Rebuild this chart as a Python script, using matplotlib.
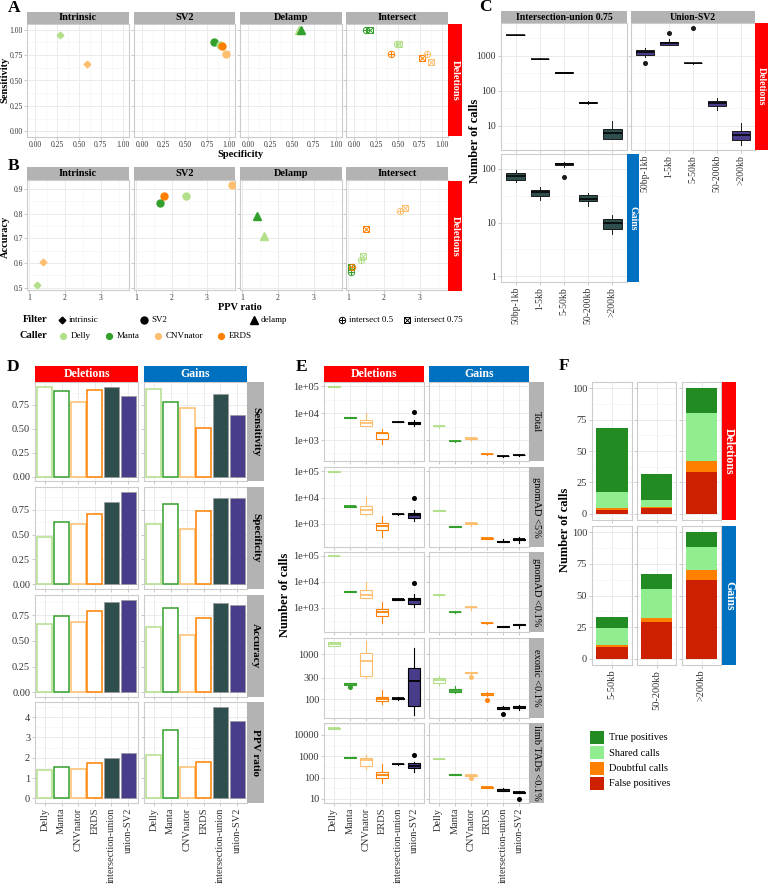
import numpy as np
import matplotlib
matplotlib.use("Agg")
import matplotlib.pyplot as plt
from matplotlib.ticker import FixedLocator
from matplotlib.patches import Rectangle

plt.rcParams['font.family'] = ['Liberation Serif', 'DejaVu Serif']

W, H = 768, 886

# colours
caller_colors = {'Delly': '#B2DF8A', 'Manta': '#33A02C', 'CNVnator': '#FDBF6F', 'ERDS': '#FF7F00'}
combo_colors = {'intersection-union': '#2F4F4F', 'union-SV2': '#483D8B'}
GREY = '#B3B3B3'
RED = '#FF0000'
BLUE = '#0070C0'

# ---------------- A / B data ----------------
ab_panels = ['Intrinsic', 'SV2', 'Delamp', 'Intersect']
a_panel = ['Intrinsic', 'Intrinsic', 'SV2', 'SV2', 'SV2', 'SV2', 'Delamp', 'Delamp',
           'Intersect', 'Intersect', 'Intersect', 'Intersect', 'Intersect', 'Intersect', 'Intersect', 'Intersect']
a_caller = ['Delly', 'CNVnator', 'Manta', 'Delly', 'ERDS', 'CNVnator', 'Delly', 'Manta',
            'Manta', 'Manta', 'Delly', 'Delly', 'ERDS', 'ERDS', 'CNVnator', 'CNVnator']
a_filter = ['intrinsic', 'intrinsic', 'SV2', 'SV2', 'SV2', 'SV2', 'delamp', 'delamp',
            'intersect 0.5', 'intersect 0.75', 'intersect 0.5', 'intersect 0.75',
            'intersect 0.5', 'intersect 0.75', 'intersect 0.5', 'intersect 0.75']
a_spec = [0.29, 0.59, 0.83, 0.90, 0.92, 0.97, 0.58, 0.60, 0.14, 0.18, 0.49, 0.51, 0.42, 0.77, 0.83, 0.88]
a_sens = [0.95, 0.66, 0.875, 0.85, 0.835, 0.765, 1.0, 1.0, 1.0, 1.0, 0.86, 0.86, 0.76, 0.72, 0.76, 0.685]

b_panel = a_panel
b_caller = ['Delly', 'CNVnator', 'Manta', 'ERDS', 'Delly', 'CNVnator', 'Manta', 'Delly',
            'Manta', 'Manta', 'ERDS', 'ERDS', 'Delly', 'Delly', 'CNVnator', 'CNVnator']
b_filter = a_filter
b_ppv = [1.22, 1.38, 1.67, 1.80, 2.40, 3.70, 1.42, 1.62, 1.07, 1.09, 1.12, 1.50, 1.37, 1.42, 2.45, 2.60]
b_acc = [0.51, 0.605, 0.845, 0.87, 0.872, 0.917, 0.79, 0.71, 0.563, 0.585, 0.583, 0.738, 0.61, 0.627, 0.81, 0.822]

# ---------------- C data: [whislo, q1, median, q3, whishi] ----------------
c_bins = ['50bp-1kb', '1-5kb', '5-50kb', '50-200kb', '>200kb']
c_del_iu = [[3850, 3880, 3950, 4020, 4050], [790, 800, 820, 840, 850], [322, 328, 333, 340, 345],
            [43, 44, 46, 49, 51], [4.3, 4.3, 6.4, 8.2, 13.9]]
c_del_iu_out = [[], [], [], [], []]
c_del_us = [[950, 1070, 1275, 1480, 1660], [2060, 2060, 2300, 2560, 3000], [600, 610, 620, 630, 640],
            [29, 38, 45, 52, 64], [2.9, 4.0, 5.4, 6.9, 12]]
c_del_us_out = [[644], [4450], [6200], [], []]
c_gain_iu = [[56, 62.6, 74, 83, 96], [26, 31.6, 37, 41, 46], [110, 118, 125, 130, 136],
             [20, 25.6, 28, 32.6, 35], [6, 7.6, 9.9, 11.8, 14]]
c_gain_iu_out = [[], [], [71], [], []]

# ---------------- D data ----------------
methods = ['Delly', 'Manta', 'CNVnator', 'ERDS', 'intersection-union', 'union-SV2']
d_metrics = ['Sensitivity', 'Specificity', 'Accuracy', 'PPV ratio']
d_sens_del = [0.935, 0.89, 0.78, 0.90, 0.94, 0.84]
d_sens_gain = [0.91, 0.78, 0.72, 0.51, 0.86, 0.64]
d_spec_del = [0.48, 0.63, 0.61, 0.71, 0.83, 0.93]
d_spec_gain = [0.61, 0.81, 0.56, 0.74, 0.87, 0.87]
d_acc_del = [0.66, 0.74, 0.68, 0.79, 0.88, 0.90]
d_acc_gain = [0.63, 0.82, 0.56, 0.72, 0.87, 0.85]
d_ppv_del = [1.38, 1.56, 1.46, 1.72, 2.00, 2.24]
d_ppv_gain = [2.13, 3.37, 1.56, 1.80, 4.52, 3.80]

# ---------------- E data: [whislo, q1, median, q3, whishi] ----------------
e_filters = ['Total', 'gnomAD <5%', 'gnomAD <0.1%', 'exonic <0.1%', 'limb TADs <0.1%']
e_del_total = [[95000, 96000, 98000, 100000, 101000], [6600, 6700, 6850, 7000, 7100],
               [3200, 3300, 4200, 5600, 10500], [710, 1060, 1800, 1860, 2500],
               [4600, 4700, 4750, 4800, 4900], [3200, 3800, 4400, 4750, 5500]]
e_del_total_out = [[], [], [], [], [], [10700]]
e_gain_total = [[2700, 3250, 3350, 3400, 3450], [880, 890, 918, 940, 950], [900, 1120, 1150, 1180, 1200],
                [285, 290, 295, 300, 305], [235, 248, 255, 260, 265], [260, 268, 275, 282, 290]]
e_gain_total_out = [[], [], [], [], [], []]
e_del_g5 = [[95000, 96000, 98000, 100000, 101000], [4400, 4500, 4630, 4750, 4850],
            [2220, 2390, 3450, 4960, 10600], [325, 590, 860, 1060, 1970],
            [2250, 2300, 2360, 2420, 2480], [1340, 1740, 2220, 2720, 3450]]
e_del_g5_out = [[], [], [], [], [], [9750]]
e_gain_g5 = [[3150, 3200, 3240, 3280, 3330], [760, 775, 790, 805, 820], [860, 1020, 1060, 1100, 1120],
             [270, 275, 280, 285, 290], [200, 205, 210, 215, 265], [195, 245, 255, 265, 330]]
e_gain_g5_out = [[], [], [], [], [], []]
e_del_g01 = [[95000, 96000, 98000, 100000, 101000], [4050, 4100, 4170, 4250, 4300],
             [2300, 2420, 3100, 4850, 10000], [250, 480, 680, 910, 1680],
             [2000, 2030, 2070, 2110, 2150], [1060, 1400, 1950, 2420, 3260]]
e_del_g01_out = [[], [], [], [], [], [8900]]
e_gain_g01 = [[2900, 2950, 2980, 3010, 3050], [650, 665, 680, 695, 710], [830, 1020, 1060, 1100, 1120],
              [240, 245, 250, 255, 260], [178, 181, 185, 189, 192], [170, 205, 215, 225, 236]]
e_gain_g01_out = [[], [], [], [], [], []]
e_del_ex = [[1550, 1560, 1700, 1830, 1840], [200, 203, 214, 229, 232], [288, 330, 705, 1050, 1920],
            [79, 89, 100, 113, 157], [98, 100, 104, 107, 110], [45, 72, 254, 500, 1370]]
e_del_ex_out = [[], [186], [], [], [], []]
e_gain_ex = [[203, 234, 260, 288, 324], [139, 142, 152, 165, 193], [370, 378, 385, 392, 400],
             [120, 125, 130, 136, 142], [60, 60, 63, 66, 72], [58, 63, 67, 70, 75]]
e_gain_ex_out = [[], [], [303], [98], [47], []]
e_del_tad = [[19500, 20000, 20500, 21000, 21500], [840, 855, 870, 885, 900], [255, 350, 670, 810, 1200],
             [55, 94, 134, 180, 420], [405, 412, 420, 428, 435], [190, 290, 365, 470, 560]]
e_del_tad_out = [[], [], [], [], [], [1100]]
e_gain_tad = [[730, 740, 750, 760, 770], [128, 131, 135, 140, 143], [112, 117, 130, 133, 135],
              [33, 34, 35, 36, 37], [23, 24, 26, 28, 31], [19, 20, 21, 22, 23]]
e_gain_tad_out = [[], [], [94], [], [], [9.6]]

# ---------------- F data ----------------
f_bins = ['5-50kb', '50-200kb', '>200kb']
f_classes = ['False positives', 'Doubtful calls', 'Shared calls', 'True positives']
f_class_colors = ['#CD2000', '#FF8000', '#90EE90', '#228B22']
f_del_fp = [3.1, 4.5, 33]
f_del_doubt = [1.3, 0.5, 9]
f_del_shared = [12.8, 6.0, 38]
f_del_tp = [50.8, 20.8, 20]
f_gain_fp = [9.2, 29.3, 62]
f_gain_doubt = [1.8, 3.2, 8]
f_gain_shared = [13, 22.5, 18]
f_gain_tp = [9, 12, 12]

fig = plt.figure(figsize=(W / 100, H / 100), dpi=100)


def add_ax(x0, y0, x1, y1):
    return fig.add_axes([x0 / W, 1 - y1 / H, (x1 - x0) / W, (y1 - y0) / H])


def strip(x0, y0, x1, y1, label, bg=GREY, fg='black', rot=0, size=7.5, weight='bold'):
    s = add_ax(x0, y0, x1, y1)
    s.set_facecolor(bg)
    s.set_xticks([])
    s.set_yticks([])
    for sp in s.spines.values():
        sp.set_visible(False)
    s.text(0.5, 0.5, label, transform=s.transAxes, ha='center', va='center',
           rotation=rot, color=fg, fontsize=size, fontweight=weight)
    return s


def panel(x0, y0, x1, y1, labelsize=7.5, pad=1.5):
    ax = add_ax(x0, y0, x1, y1)
    for sp in ax.spines.values():
        sp.set_color('#CCCCCC')
        sp.set_linewidth(0.8)
    ax.tick_params(which='major', length=2, width=0.5, color='#B3B3B3',
                   labelsize=labelsize, labelcolor='#333333', pad=pad)
    ax.tick_params(which='minor', length=0)
    ax.grid(True, which='major', color='#EBEBEB', lw=0.7)
    ax.grid(True, which='minor', color='#F3F3F3', lw=0.4)
    ax.set_axisbelow(True)
    return ax


def draw_point(ax, x, y, filt, col):
    if filt == 'intrinsic':
        ax.plot(x, y, marker='D', ms=3.4, color=col, ls='none', zorder=3)
    elif filt == 'SV2':
        ax.plot(x, y, marker='o', ms=5.0, color=col, ls='none', zorder=3)
    elif filt == 'delamp':
        ax.plot(x, y, marker='^', ms=5.7, color=col, ls='none', zorder=3)
    elif filt == 'intersect 0.5':
        ax.plot(x, y, marker='o', ms=4.6, mfc='none', mec=col, mew=0.7, ls='none', zorder=3)
        ax.plot(x, y, marker='+', ms=4.6, mec=col, mew=0.7, ls='none', zorder=3)
    else:
        ax.plot(x, y, marker='s', ms=4.3, mfc='none', mec=col, mew=0.7, ls='none', zorder=3)
        ax.plot(x, y, marker='x', ms=3.7, mec=col, mew=0.7, ls='none', zorder=3)


def draw_boxes(ax, stats, outs, fills, edges, medcols, width=0.75, lw=0.7):
    items = []
    for s, o in zip(stats, outs):
        items.append({'whislo': s[0], 'q1': s[1], 'med': s[2], 'q3': s[3], 'whishi': s[4], 'fliers': o})
    bp = ax.bxp(items, positions=np.arange(len(items)), widths=width, patch_artist=True,
                showcaps=False, manage_ticks=False)
    for i in range(len(items)):
        bp['boxes'][i].set(facecolor=fills[i], edgecolor=edges[i], linewidth=lw)
        bp['medians'][i].set(color=medcols[i], linewidth=lw * 1.6)
        for w in bp['whiskers'][2 * i:2 * i + 2]:
            w.set(color=edges[i], linewidth=lw)
        bp['fliers'][i].set(marker='o', markerfacecolor=edges[i], markeredgecolor=edges[i], markersize=2.6)


def log_ticks(ax, lo, hi, ticks, labels):
    ax.set_yscale('log')
    ax.set_ylim(10 ** lo, 10 ** hi)
    ax.yaxis.set_major_locator(FixedLocator(ticks))
    lt = np.log10(ticks)
    mids = list((lt[:-1] + lt[1:]) / 2)
    mids = [lt[0] - (lt[1] - lt[0]) / 2] + mids + [lt[-1] + (lt[-1] - lt[-2]) / 2]
    ax.yaxis.set_minor_locator(FixedLocator([10 ** m for m in mids]))
    ax.yaxis.set_minor_formatter(plt.NullFormatter())
    ax.set_yticklabels(labels)


# ================= A =================
fac_cols = [(27, 129), (134, 235), (240, 342), (346, 448)]
q = [0, 0.25, 0.5, 0.75, 1.0]
for k, name in enumerate(ab_panels):
    x0, x1 = fac_cols[k]
    strip(x0, 12, x1, 24, name)
    ax = panel(x0, 24, x1, 137, labelsize=5.5, pad=1)
    ax.set_xlim(-0.09, 1.07)
    ax.set_ylim(-0.055, 1.055)
    ax.xaxis.set_major_locator(FixedLocator(q))
    ax.xaxis.set_minor_locator(FixedLocator([0.125, 0.375, 0.625, 0.875]))
    ax.yaxis.set_major_locator(FixedLocator(q))
    ax.yaxis.set_minor_locator(FixedLocator([0.125, 0.375, 0.625, 0.875]))
    ax.set_xticklabels(['0.00', '0.25', '0.50', '0.75', '1.00'])
    ax.set_yticklabels(['0.00', '0.25', '0.50', '0.75', '1.00'])
    if k > 0:
        ax.tick_params(labelleft=False)
    for i in range(len(a_panel)):
        if a_panel[i] == name:
            draw_point(ax, a_spec[i], a_sens[i], a_filter[i], caller_colors[a_caller[i]])
strip(448, 24, 462, 136, 'Deletions', bg=RED, fg='white', rot=-90, size=7.5)

# ================= B =================
for k, name in enumerate(ab_panels):
    x0, x1 = fac_cols[k]
    strip(x0, 167, x1, 180, name)
    ax = panel(x0, 180, x1, 290, labelsize=5.5, pad=1)
    ax.set_xlim(0.94, 3.79)
    ax.set_ylim(0.49, 0.937)
    ax.xaxis.set_major_locator(FixedLocator([1, 2, 3]))
    ax.xaxis.set_minor_locator(FixedLocator([1.5, 2.5, 3.5]))
    ax.yaxis.set_major_locator(FixedLocator([0.5, 0.6, 0.7, 0.8, 0.9]))
    ax.yaxis.set_minor_locator(FixedLocator([0.55, 0.65, 0.75, 0.85]))
    ax.set_xticklabels(['1', '2', '3'])
    ax.set_yticklabels(['0.5', '0.6', '0.7', '0.8', '0.9'])
    if k > 0:
        ax.tick_params(labelleft=False)
    for i in range(len(b_panel)):
        if b_panel[i] == name:
            draw_point(ax, b_ppv[i], b_acc[i], b_filter[i], caller_colors[b_caller[i]])
strip(448, 181, 462, 291, 'Deletions', bg=RED, fg='white', rot=-90, size=7.5)

# ================= C =================
cx = np.arange(len(c_bins))
c_iu = combo_colors['intersection-union']
c_us = combo_colors['union-SV2']
axc1 = panel(501, 23, 627, 150, labelsize=7)
draw_boxes(axc1, c_del_iu, c_del_iu_out, [c_iu] * 5, ['#1A1A1A'] * 5, ['black'] * 5)
log_ticks(axc1, 0.31, 3.94, [10, 100, 1000], ['10', '100', '1000'])
axc1.set_xlim(-0.6, 4.6)
axc1.set_xticks(cx)
axc1.tick_params(labelbottom=False)

axc2 = panel(631, 23, 755, 150, labelsize=7)
draw_boxes(axc2, c_del_us, c_del_us_out, [c_us] * 5, ['#1A1A1A'] * 5, ['black'] * 5)
log_ticks(axc2, 0.31, 3.94, [10, 100, 1000], ['10', '100', '1000'])
axc2.set_xlim(-0.6, 4.6)
axc2.set_xticks(cx)
axc2.set_xticklabels(c_bins, rotation=90)
axc2.tick_params(labelleft=False)

axc3 = panel(501, 154, 627, 282, labelsize=7)
draw_boxes(axc3, c_gain_iu, c_gain_iu_out, [c_iu] * 5, ['#1A1A1A'] * 5, ['black'] * 5)
log_ticks(axc3, -0.11, 2.28, [1, 10, 100], ['1', '10', '100'])
axc3.set_xlim(-0.6, 4.6)
axc3.set_xticks(cx)
axc3.set_xticklabels(c_bins, rotation=90)

strip(501, 11, 627, 23, 'Intersection-union 0.75', size=7)
strip(631, 11, 755, 23, 'Union-SV2', size=7)
strip(755, 23, 768, 150, 'Deletions', bg=RED, fg='white', rot=-90, size=7)
strip(627, 154, 639, 282, 'Gains', bg=BLUE, fg='white', rot=-90, size=7)

# ================= D =================
d_cols = [(35, 138), (144, 247)]
d_rows = [(382, 481), (487, 589), (595, 697), (702, 803)]
d_vals = [[d_sens_del, d_sens_gain], [d_spec_del, d_spec_gain],
          [d_acc_del, d_acc_gain], [d_ppv_del, d_ppv_gain]]
mx = np.arange(len(methods))
for r, (y0, y1) in enumerate(d_rows):
    ymax = max(max(d_vals[r][0]), max(d_vals[r][1]))
    for c, (x0, x1) in enumerate(d_cols):
        ax = panel(x0, y0, x1, y1, labelsize=7.5)
        vals = d_vals[r][c]
        for i, m in enumerate(methods):
            if m in caller_colors:
                ax.bar(i, vals[i], 0.9, facecolor='white', edgecolor=caller_colors[m], linewidth=1.1, zorder=2)
            else:
                ax.bar(i, vals[i], 0.9, facecolor=combo_colors[m], edgecolor='#9A9A9A', linewidth=0.5, zorder=2)
        ax.set_xlim(-0.6, 5.6)
        ax.set_ylim(-0.05 * ymax, 1.05 * ymax)
        ax.set_xticks(mx)
        if r < 3:
            ax.yaxis.set_major_locator(FixedLocator([0, 0.25, 0.5, 0.75]))
            ax.yaxis.set_minor_locator(FixedLocator([0.125, 0.375, 0.625, 0.875]))
            ax.set_yticklabels(['0.00', '0.25', '0.50', '0.75'])
        else:
            ax.yaxis.set_major_locator(FixedLocator([0, 1, 2, 3, 4]))
            ax.yaxis.set_minor_locator(FixedLocator([0.5, 1.5, 2.5, 3.5, 4.5]))
            ax.set_yticklabels(['0', '1', '2', '3', '4'])
        if c > 0:
            ax.tick_params(labelleft=False)
        if r < 3:
            ax.tick_params(labelbottom=False)
        else:
            ax.set_xticklabels(methods, rotation=90)
    strip(247, y0, 264, y1, d_metrics[r], rot=-90, size=8)
strip(35, 366, 138, 382, 'Deletions', bg=RED, fg='white', size=8.5)
strip(144, 366, 247, 382, 'Gains', bg=BLUE, fg='white', size=8.5)

# ================= E =================
e_cols = [(324, 424), (429, 529)]
e_rows = [(382, 461), (467, 547), (552, 632), (638, 718), (723, 803)]
e_data = [[(e_del_total, e_del_total_out), (e_gain_total, e_gain_total_out)],
          [(e_del_g5, e_del_g5_out), (e_gain_g5, e_gain_g5_out)],
          [(e_del_g01, e_del_g01_out), (e_gain_g01, e_gain_g01_out)],
          [(e_del_ex, e_del_ex_out), (e_gain_ex, e_gain_ex_out)],
          [(e_del_tad, e_del_tad_out), (e_gain_tad, e_gain_tad_out)]]
e_lims = [(2.22, 5.16), (2.12, 5.17), (2.06, 5.15), (1.58, 3.36), (0.81, 4.56)]
e_ticks = [[1e3, 1e4, 1e5]] * 3 + [[100, 300, 1000], [10, 100, 1000, 10000]]
e_labels = [['1e+03', '1e+04', '1e+05']] * 3 + [['100', '300', '1000'], ['10', '100', '1000', '10000']]
e_edges = [caller_colors['Delly'], caller_colors['Manta'], caller_colors['CNVnator'], caller_colors['ERDS'],
           'black', 'black']
e_fills = ['white', 'white', 'white', 'white', 'white', combo_colors['union-SV2']]
for r, (y0, y1) in enumerate(e_rows):
    for c, (x0, x1) in enumerate(e_cols):
        ax = panel(x0, y0, x1, y1, labelsize=7.5)
        st, outs = e_data[r][c]
        draw_boxes(ax, st, outs, e_fills, e_edges, e_edges, width=0.75, lw=0.8)
        log_ticks(ax, e_lims[r][0], e_lims[r][1], e_ticks[r], e_labels[r])
        ax.set_xlim(-0.6, 5.6)
        ax.set_xticks(mx)
        if c > 0:
            ax.tick_params(labelleft=False)
        if r < 4:
            ax.tick_params(labelbottom=False)
        else:
            ax.set_xticklabels(methods, rotation=90)
    strip(529, y0, 544, y1, e_filters[r], rot=-90, size=7.5, weight='normal')
strip(324, 366, 424, 382, 'Deletions', bg=RED, fg='white', size=8.5)
strip(429, 366, 529, 382, 'Gains', bg=BLUE, fg='white', size=8.5)

# ================= F =================
f_cols = [(592, 632), (637, 676), (682, 721)]
f_rows = [(382, 520), (526, 665)]
f_stack = [[f_del_fp, f_del_doubt, f_del_shared, f_del_tp],
           [f_gain_fp, f_gain_doubt, f_gain_shared, f_gain_tp]]
for r, (y0, y1) in enumerate(f_rows):
    for c, (x0, x1) in enumerate(f_cols):
        ax = panel(x0, y0, x1, y1, labelsize=7.5)
        bottom = 0
        for k in range(len(f_classes)):
            v = f_stack[r][k][c]
            ax.bar(0, v, 0.9, bottom=bottom, color=f_class_colors[k], linewidth=0, zorder=2)
            bottom += v
        ax.set_xlim(-0.58, 0.58)
        ax.set_ylim(-5, 105)
        ax.set_xticks([0])
        ax.yaxis.set_major_locator(FixedLocator([0, 25, 50, 75, 100]))
        ax.yaxis.set_minor_locator(FixedLocator([12.5, 37.5, 62.5, 87.5]))
        ax.set_yticklabels(['0', '25', '50', '75', '100'])
        if c > 0:
            ax.tick_params(labelleft=False)
        if r == 0:
            ax.tick_params(labelbottom=False)
        else:
            ax.set_xticklabels([f_bins[c]], rotation=90)
strip(722, 382, 736, 520, 'Deletions', bg=RED, fg='white', rot=-90, size=8.5)
strip(722, 526, 736, 665, 'Gains', bg=BLUE, fg='white', rot=-90, size=8.5)

# ================= overlay: titles, letters, legends =================
ov = fig.add_axes([0, 0, 1, 1], zorder=10)
ov.set_xlim(0, W)
ov.set_ylim(H, 0)
ov.axis('off')

for lab, (lx, ly) in {'A': (14, 8), 'B': (14, 166), 'C': (485, 7), 'D': (13, 367),
                      'E': (302, 367), 'F': (564, 366)}.items():
    ov.text(lx, ly, lab, fontsize=12.5, fontweight='bold', ha='center', va='center')

ov.text(240, 154, 'Specificity', fontsize=7.5, fontweight='bold', ha='center', va='center')
ov.text(5, 80, 'Sensitivity', fontsize=7.5, fontweight='bold', ha='center', va='center', rotation=90)
ov.text(240, 307, 'PPV ratio', fontsize=7.5, fontweight='bold', ha='center', va='center')
ov.text(5, 237, 'Accuracy', fontsize=7.5, fontweight='bold', ha='center', va='center', rotation=90)
ov.text(475, 141, 'Number of calls', fontsize=9, fontweight='bold', ha='center', va='center', rotation=90)
ov.text(285, 595, 'Number of calls', fontsize=9, fontweight='bold', ha='center', va='center', rotation=90)
ov.text(565, 530, 'Number of calls', fontsize=9, fontweight='bold', ha='center', va='center', rotation=90)

# Filter legend
ov.text(23, 320, 'Filter', fontsize=7.5, fontweight='bold', ha='left', va='center')
filter_keys = ['intrinsic', 'SV2', 'delamp', 'intersect 0.5', 'intersect 0.75']
filter_x = [62, 144, 254, 342, 407]
for fk, fx in zip(filter_keys, filter_x):
    draw_point(ov, fx, 320, fk, 'black')
    ov.text(fx + 7, 320.5, fk, fontsize=6.5, ha='left', va='center')
# Caller legend
ov.text(20, 336, 'Caller', fontsize=7.5, fontweight='bold', ha='left', va='center')
caller_x = [63, 109, 158, 221]
for (cname, ccol), cxp in zip(caller_colors.items(), caller_x):
    ov.plot(cxp, 336, marker='o', ms=4.2, color=ccol, ls='none')
    ov.text(cxp + 8, 336.5, cname, fontsize=6.5, ha='left', va='center')

# F legend (top to bottom: True positives ... False positives)
for j, k in enumerate(range(len(f_classes) - 1, -1, -1)):
    ly = 731 + j * 15.3
    ov.add_patch(Rectangle((590, ly), 14, 13, facecolor=f_class_colors[k], edgecolor='none'))
    ov.text(609, ly + 6.8, f_classes[k], fontsize=7.5, ha='left', va='center')

fig.savefig('out.png', dpi=100)
